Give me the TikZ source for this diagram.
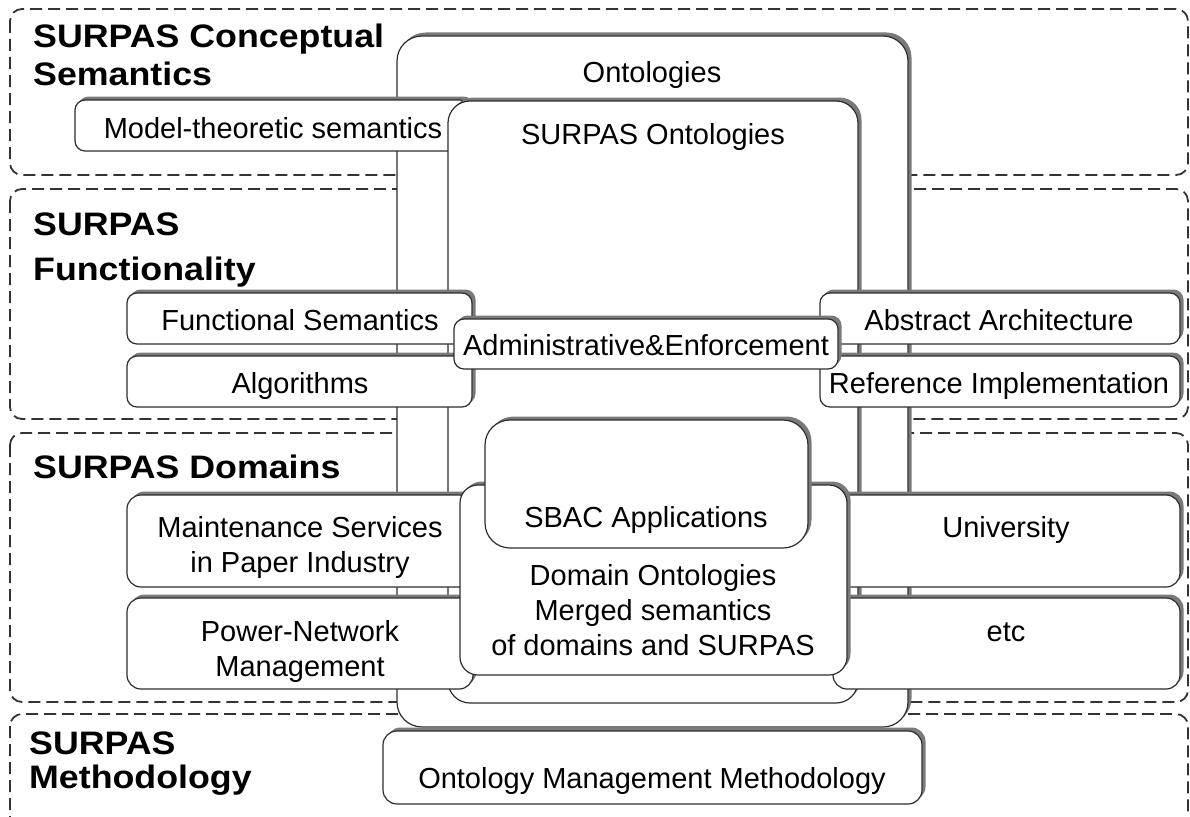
\documentclass[tikz,border=0pt]{standalone}
\usepackage{fontspec}
\setmainfont{Liberation Sans}
\newfontfamily\headfont[FakeStretch=1.1]{Liberation Sans}
\usetikzlibrary{shadows,fit}
\begin{document}
\begin{tikzpicture}[x=1pt,y=-1pt,
  zone/.style={draw=black!80, line width=1.8pt, dash pattern=on 12pt off 6pt, rounded corners=12pt},
  box/.style={draw=black!82, line width=1.2pt, fill=white, rounded corners=#1,
    inner sep=0pt, outer sep=0pt,
    drop shadow={shadow xshift=3.5pt, shadow yshift=3.5pt, opacity=1, fill=black!52}},
  box/.default=11pt,
  lbl/.style={inner sep=0pt, anchor=base, font=\fontsize{29}{35}\selectfont},
  head/.style={inner sep=0pt, anchor=base west, font=\headfont\bfseries\fontsize{32.5}{36}\selectfont},
]
\useasboundingbox (0,0) rectangle (1190,816);
\fill[white] (0,0) rectangle (1190,816);
\clip (0,0) rectangle (1190,816);

% dashed layers
\draw[zone] (10,9) rectangle (1188,175);
\draw[zone] (10,189) rectangle (1188,419);
\draw[zone] (10,433) rectangle (1188,702);
\draw[zone] (10,714) rectangle (1188,860);

% layer headings
\node[head] (h1a) at (33,48) {SURPAS Conceptual};
\node[head] (h1b) at (33,85) {Semantics};
\node[head] (h2a) at (33,235) {SURPAS};
\node[head] (h2b) at (33,280) {Functionality};
\node[head] (h3) at (33,478) {SURPAS Domains};
\node[head] (h4a) at (29,754) {SURPAS};
\node[head] (h4b) at (29,788) {Methodology};

% outer ontology frame and methodology
\node[box=25pt, fit={(397,36)(908,727)}] (ont) {};
\node[lbl] (ont-t) at (652,82) {Ontologies};
\node[box=14pt, fit={(383,731)(922,804)}] (omm) {};
\node[lbl] (omm-t) at (652,788) {Ontology Management Methodology};

% conceptual semantics
\node[box=10pt, fit={(75,100)(470,151)}] (mts) {};
\node[lbl] (mts-t) at (273,138) {Model-theoretic semantics};

% SURPAS ontologies
\node[box=22pt, fit={(448,101)(858,703)}] (sont) {};
\node[lbl] (sont-t) at (653,144) {SURPAS Ontologies};

% functionality
\node[box=10pt, fit={(127,293)(472,344)}] (fs) {};
\node[lbl] (fs-t) at (300,330) {Functional Semantics};
\node[box=10pt, fit={(127,356)(472,407)}] (alg) {};
\node[lbl] (alg-t) at (300,393) {Algorithms};
\node[box=10pt, fit={(820,293)(1180,344)}] (aa) {};
\node[lbl] (aa-t) at (999,330) {Abstract Architecture};
\node[box=10pt, fit={(820,356)(1180,407)}] (ri) {};
\node[lbl] (ri-t) at (999,393) {Reference Implementation};
\node[box=10pt, fit={(454,319)(838,369)}] (ae) {};
\node[lbl] (ae-t) at (646,355) {Administrative\&Enforcement};

% domains (multi-line labels are placed by their last baseline)
\node[box=14pt, fit={(127,495)(473,587)}] (mnt) {};
\node[lbl, align=center] (mnt-t) at (300,572) {Maintenance Services\\in Paper Industry};
\node[box=14pt, fit={(127,598)(473,689)}] (pwr) {};
\node[lbl, align=center] (pwr-t) at (300,676) {Power-Network\\Management};
\node[box=14pt, fit={(833,495)(1180,587)}] (uni) {};
\node[lbl] (uni-t) at (1006,537) {University};
\node[box=14pt, fit={(833,598)(1180,689)}] (etc) {};
\node[lbl] (etc-t) at (1006,641) {etc};

\node[box=18pt, fit={(460,485)(847,675)}] (dom) {};
\node[lbl, align=center] (dom-t) at (653,655) {Domain Ontologies\\Merged semantics\\of domains and SURPAS};
\node[box=25pt, fit={(485,420)(808,548)}] (sbac) {};
\node[lbl] (sbac-t) at (646,527) {SBAC Applications};
\end{tikzpicture}
\end{document}
